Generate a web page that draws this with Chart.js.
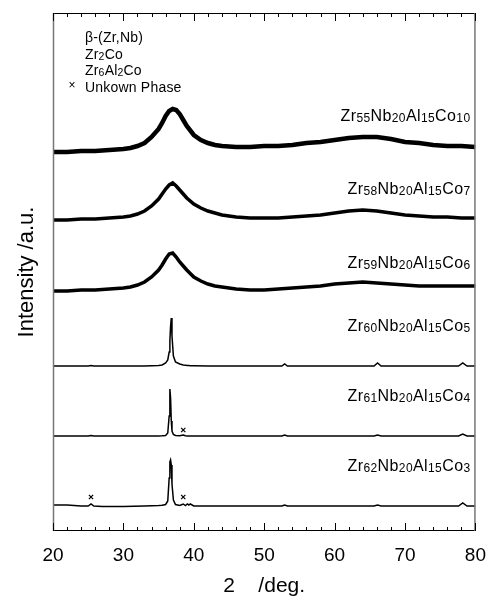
<!DOCTYPE html>
<html>
<head>
<meta charset="utf-8">
<script src="https://cdn.jsdelivr.net/npm/chart.js@4.4.0/dist/chart.umd.min.js"></script>
<style>
html,body{margin:0;padding:0;background:#fff;}
</style>
</head>
<body>
<canvas id="xrd" width="499" height="599"></canvas>
<script>
// 2theta grid (deg) for the amorphous-looking patterns
const angAmorph = [20,22,24,26,28,30,31,32,33,34,35,35.5,36,36.5,37,37.5,38,38.5,39,40,41,42,43,44,46,48,50,52,54,56,58,60,62,64,66,68,70,72,74,76,78,80]
// 2theta grid (deg) for the crystalline patterns
const angCryst = [20,22,24,25,25.4,25.8,27,30,33,34,35,35.5,36,36.3,36.5,36.6,36.7,36.8,36.9,37.1,37.4,38,38.5,38.8,39.1,39.3,39.5,40,42,45,50,52.5,52.9,53.3,56,60,65.6,66.1,66.6,70,75,77.6,78.2,78.8,80]

// intensity above each pattern's own baseline (a.u.)
const iCo10 = [-1,-1,0,0,1,2,3,5,8,14,22,28,35,40,42,41,37,31,25,16,11,8,6,5,4,4,5,5,6,8,9,11,13,14,14,12,9,8,6,5,5,4]
const iCo7  = [-1,-1,0,0,1,2,3,5,8,13,20,25,30,34,36,33,29,25,21,15,11,8,6,4,2,1,1,1,2,3,4,6,8,9,8,6,4,3,2,2,1,1]
const iCo6  = [-1,-1,0,0,1,2,3,5,8,13,20,25,31,36,37,33,28,24,20,13,9,6,4,3,1,0,0,1,2,3,4,6,7,8,7,6,5,4,4,4,4,4]
const iCo5  = [0,0,0,0,0.5,0,0,0,0,0.3,0.5,1,3,6,14,25,40,48,30,10,4,2,1,0.8,0.5,0.4,0.3,0.2,0,0,0,0,2,0,0,0,0,3,0,0,0,0,3,0,0]
const iCo4  = [0,0,0,0,0.5,0,0,0,0,0,0,0.2,0.5,3,20,47,38,15,5,1.5,0.5,0.2,1,0.2,0,0,0,0,0,0,0,0,1,0,0,0,0,1,0,0,0,0,2,0,0]
const iCo3  = [1,1,0,0,2,0,-0.5,-0.5,0,0.3,0.5,0.8,1.5,5,28,44,46,41,22,6,1.5,0.5,2,0.5,2,1,2,0,0,0,0,0,1,0,0,0,0,1,0,0,0,0,3,0,0]

const sampleNames = ['Zr55Nb20Al15Co10','Zr58Nb20Al15Co7','Zr59Nb20Al15Co6','Zr60Nb20Al15Co5','Zr61Nb20Al15Co4','Zr62Nb20Al15Co3']
const sampleData = [iCo10, iCo7, iCo6, iCo5, iCo4, iCo3]
const sampleAng = [angAmorph, angAmorph, angAmorph, angCryst, angCryst, angCryst]
// vertical stacking offsets (a.u.)
const offsets = [380, 312, 241, 165, 95, 25]
const labelLevel = [410, 337, 263, 200, 130, 60]

// unknown phase marks: angle, sample index, height above baseline
const unkAng = [38.5, 25.4, 38.5]
const unkSample = [4, 5, 5]
const unkHeight = [6, 9, 9]

const legendItems = ['β-(Zr,Nb)', 'Zr2Co', 'Zr6Al2Co', 'Unkown Phase']

const FONT = '"Liberation Sans", Arial, sans-serif'

function richRuns(text){
    return text.match(/\d+|\D+/g).map(s => ({s: s, sub: /\d/.test(s)}))
}
function drawRich(ctx, text, x, y, size, subSize, align, spacing){
    let runs = richRuns(text)
    ctx.letterSpacing = (spacing || 0) + 'px'
    let w = 0
    runs.forEach(r => {
        ctx.font = (r.sub ? subSize : size) + 'px ' + FONT
        r.w = ctx.measureText(r.s).width
        w += r.w
    })
    let cx = align == 'right' ? x - w : x
    ctx.textBaseline = 'alphabetic'
    ctx.textAlign = 'left'
    runs.forEach(r => {
        ctx.font = (r.sub ? subSize : size) + 'px ' + FONT
        ctx.fillText(r.s, cx, r.sub ? y + 1 : y)
        cx += r.w
    })
    ctx.letterSpacing = '0px'
}

const decor = {
    id: 'decor',
    afterDraw(chart){
        const ctx = chart.ctx
        const a = chart.chartArea
        const xs = chart.scales.x
        const ys = chart.scales.y
        ctx.save()
        // frame
        ctx.lineWidth = 1
        ctx.strokeStyle = '#000'
        ctx.beginPath()
        ctx.moveTo(a.left, a.top + 0.5); ctx.lineTo(a.right, a.top + 0.5)
        ctx.moveTo(a.left, a.bottom - 0.5); ctx.lineTo(a.right, a.bottom - 0.5)
        ctx.stroke()
        ctx.strokeStyle = '#777'
        ctx.lineWidth = 1.5
        ctx.beginPath()
        ctx.moveTo(a.left + 0.5, a.top); ctx.lineTo(a.left + 0.5, a.bottom)
        ctx.moveTo(a.right - 0.5, a.top); ctx.lineTo(a.right - 0.5, a.bottom)
        ctx.stroke()
        // inward ticks top and bottom
        ctx.strokeStyle = '#000'
        ctx.lineWidth = 1
        ctx.beginPath()
        for (let t = 20; t <= 80; t += 2) {
            let px = Math.round(xs.getPixelForValue(t)) + 0.5
            let len = t % 10 == 0 ? 8 : 4
            ctx.moveTo(px, a.bottom); ctx.lineTo(px, a.bottom - len)
            ctx.moveTo(px, a.top); ctx.lineTo(px, a.top + len)
        }
        ctx.stroke()
        // sample labels
        ctx.fillStyle = '#000'
        sampleNames.forEach((n, i) => {
            drawRich(ctx, n, xs.getPixelForValue(79.3), ys.getPixelForValue(labelLevel[i]), 16, 12, 'right', 0.4)
        })
        // legend
        legendItems.forEach((n, i) => {
            drawRich(ctx, n, a.left + 32, a.top + 29 + i * 16.5, 14, 10.5, 'left', 0.2)
        })
        ctx.font = '12px ' + FONT
        ctx.textAlign = 'center'
        ctx.textBaseline = 'middle'
        ctx.fillText('×', a.left + 19, a.top + 73)
        // y title
        ctx.translate(27, (a.top + a.bottom) / 2)
        ctx.rotate(-Math.PI / 2)
        ctx.font = '22px ' + FONT
        ctx.fillText('Intensity /a.u.', 0, 0)
        ctx.restore()
    }
}

let datasets = sampleData.map((vals, i) => ({
    label: sampleNames[i],
    data: vals.map((v, j) => ({x: sampleAng[i][j], y: v + offsets[i]})),
    borderColor: '#000',
    borderWidth: i == 0 ? 4.5 : (i < 3 ? 3.5 : 1.5),
    pointRadius: 0,
    tension: 0,
    fill: false
}))
datasets.push({
    label: 'Unkown Phase',
    type: 'scatter',
    data: unkAng.map((t, k) => ({x: t, y: offsets[unkSample[k]] + unkHeight[k]})),
    pointStyle: 'crossRot',
    pointRadius: 3,
    borderWidth: 1.2,
    borderColor: '#000',
    showLine: false
})

new Chart(document.getElementById('xrd'), {
    type: 'line',
    data: {datasets: datasets},
    options: {
        responsive: false,
        animation: false,
        layout: {padding: {left: 53, right: 14, top: 13, bottom: 0}},
        plugins: {legend: {display: false}, tooltip: {enabled: false}},
        scales: {
            x: {
                type: 'linear',
                min: 20,
                max: 80,
                grid: {display: false, drawTicks: false},
                border: {display: false},
                ticks: {stepSize: 10, padding: 13, color: '#000', font: {family: FONT, size: 19}},
                title: {display: true, text: '2    /deg.', color: '#000', font: {family: FONT, size: 21}, padding: {top: 0, bottom: 0}},
                afterFit: s => { s.height = 68 }
            },
            y: {
                display: false,
                min: 0,
                max: 518
            }
        }
    },
    plugins: [decor]
})
</script>
</body>
</html>
